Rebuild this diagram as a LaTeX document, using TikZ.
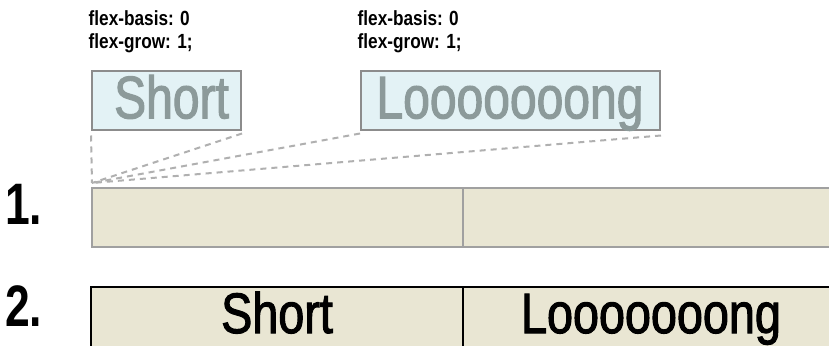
\documentclass[tikz,border=0pt]{standalone}
\usepackage{fontspec}
\newfontfamily\labfont{Liberation Sans}[FakeStretch=0.84]
\newfontfamily\boxfont{Liberation Sans}[FakeStretch=0.80,FakeBold=1.8]
\newfontfamily\barfont{Liberation Sans}[FakeStretch=0.82,FakeBold=1.8]
\newfontfamily\digfont{Liberation Sans}[FakeStretch=0.76]
\definecolor{boxfill}{HTML}{E3F2F5}
\definecolor{boxline}{HTML}{8C8C8C}
\definecolor{boxtext}{HTML}{8C9A9A}
\definecolor{barfill}{HTML}{E9E6D3}
\definecolor{barline}{HTML}{A0A0A0}
\definecolor{dashcol}{HTML}{B0B0B0}
\tikzset{
  itembox/.style={draw=boxline, fill=boxfill, line width=2pt, inner sep=0pt, minimum height=59pt},
  itemtext/.style={text=boxtext, font=\boxfont\fontsize{60}{60}\selectfont, inner sep=0pt, anchor=base},
  cellone/.style={draw=barline, fill=barfill, line width=2pt, inner sep=0pt, minimum height=58.5pt},
  celltwo/.style={draw=black, fill=barfill, line width=2pt, inner sep=0pt, minimum height=78pt},
  celltext/.style={text=black, font=\barfont\fontsize{57}{57}\selectfont, inner sep=0pt, anchor=base},
  labeltext/.style={font=\labfont\bfseries\fontsize{20.5}{22}\selectfont, inner sep=0pt, anchor=base west},
  digit/.style={font=\digfont\bfseries\fontsize{58.5}{58.5}\selectfont, inner sep=0pt, anchor=base west},
  dashline/.style={draw=dashcol, line width=2pt, dash pattern=on 6pt off 5pt}
}
\begin{document}
\begin{tikzpicture}[x=1pt,y=1pt]
\useasboundingbox (0,0) rectangle (829,345);
\fill[white] (0,0) rectangle (829,345);
% labels
\node[labeltext] (la1) at (88.5,319.3) {flex-basis: 0};
\node[labeltext] (la2) at (88.5,296.8) {flex-grow: 1;};
\node[labeltext] (lb1) at (357.5,319.3) {flex-basis: 0};
\node[labeltext] (lb2) at (357.5,296.8) {flex-grow: 1;};
% item boxes
\node[itembox, minimum width=149pt] (sbox) at (166.5,244) {};
\node[itembox, minimum width=299pt] (lbox) at (510.5,244) {};
\node[itemtext] (stext) at (171.5,226.7) {Short};
\node[itemtext] (ltext) at (510,226.7) {Looooooong};
% convergence point
\coordinate (conv) at (92,162);
\draw[dashline] ([yshift=-4pt]sbox.south west) -- (conv);
\draw[dashline] ([yshift=-2pt]sbox.south east) -- (conv);
\draw[dashline] ([yshift=-2pt]lbox.south west) -- (conv);
\draw[dashline] ([yshift=-4pt]lbox.south east) -- (conv);
% bar 1
\node[cellone, minimum width=371pt] (c1a) at (277.5,127.25) {};
\node[cellone, minimum width=387pt] (c1b) at (656.5,127.25) {};
% bar 2
\node[celltwo, minimum width=372.5pt] (c2a) at (276.75,19) {};
\node[celltwo, minimum width=387pt] (c2b) at (656.5,19) {};
\node[celltext] (t2a) at (277,12) {Short};
\node[celltext] (t2b) at (651,12) {Looooooong};
% numbers
\node[digit] (n1) at (5,120) {1.};
\node[digit] (n2) at (5,19) {2.};
\end{tikzpicture}
\end{document}
